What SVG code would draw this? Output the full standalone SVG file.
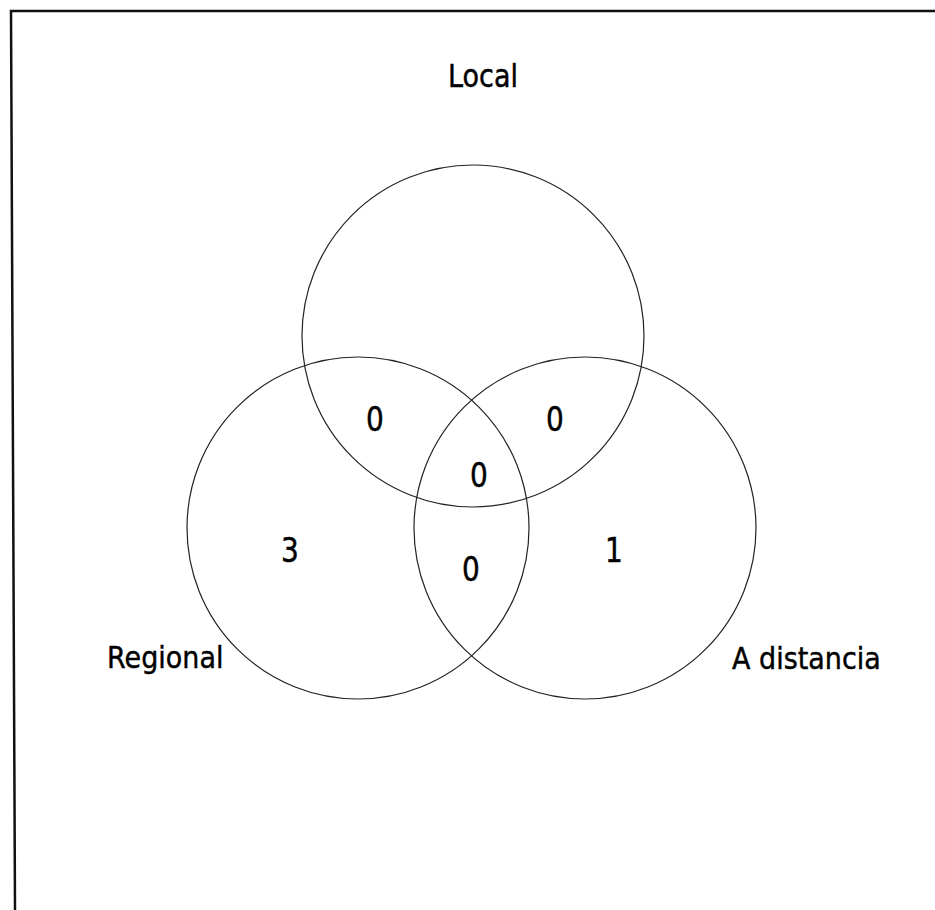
<svg xmlns="http://www.w3.org/2000/svg" width="935" height="910" viewBox="0 0 935 910">
  <style>
    .set { fill: none; stroke: #222; stroke-width: 1.2; }
    .lbl { font-family: "DejaVu Sans", Verdana, sans-serif; font-size: 27px; fill: #000; stroke: #000; stroke-width: 0.4; }
    .num { font-family: "DejaVu Sans", Verdana, sans-serif; font-size: 28px; fill: #000; stroke: #000; stroke-width: 0.4; text-anchor: middle; }
    .frame { fill: none; stroke: #111; stroke-width: 2.5; }
  </style>
  <rect width="935" height="910" fill="#fff"/>
  <g id="frame">
    <polyline class="frame" points="935,11 11,11 15,910"/>
  </g>
  <g id="local">
    <circle class="set" cx="473" cy="336" r="171"/>
    <text class="lbl" transform="translate(483,87) scale(1,1.18)" text-anchor="middle">Local</text>
  </g>
  <g id="regional">
    <circle class="set" cx="358" cy="528" r="171"/>
    <text class="lbl" transform="translate(107,668) scale(1,1.12)">Regional</text>
  </g>
  <g id="a-distancia">
    <circle class="set" cx="585" cy="528" r="171"/>
    <text class="lbl" transform="translate(732,669) scale(1,1.12)">A distancia</text>
  </g>
  <g id="counts">
    <text class="num" transform="translate(375,431) scale(1,1.2)">0</text>
    <text class="num" transform="translate(555,431) scale(1,1.2)">0</text>
    <text class="num" transform="translate(479,487) scale(1,1.2)">0</text>
    <text class="num" transform="translate(290,562) scale(1,1.2)">3</text>
    <text class="num" transform="translate(471,581) scale(1,1.2)">0</text>
    <text class="num" transform="translate(614,562) scale(1,1.2)">1</text>
  </g>
</svg>
